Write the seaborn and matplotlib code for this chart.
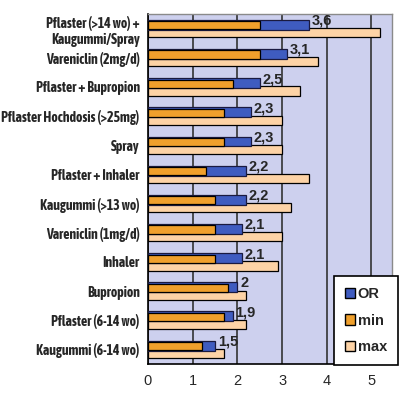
import numpy as np
import pandas as pd
import matplotlib
matplotlib.use("Agg")
import matplotlib.pyplot as plt
import seaborn as sns
from matplotlib.patches import Patch

# Data
categories = [
    "Pflaster (>14 wo) +\nKaugummi/Spray",
    "Vareniclin (2mg/d)",
    "Pflaster + Bupropion",
    "Pflaster Hochdosis (>25mg)",
    "Spray",
    "Pflaster + Inhaler",
    "Kaugummi (>13 wo)",
    "Vareniclin (1mg/d)",
    "Inhaler",
    "Bupropion",
    "Pflaster (6-14 wo)",
    "Kaugummi (6-14 wo)",
]
or_values = [3.6, 3.1, 2.5, 2.3, 2.3, 2.2, 2.2, 2.1, 2.1, 2.0, 1.9, 1.5]
min_values = [2.5, 2.5, 1.9, 1.7, 1.7, 1.3, 1.5, 1.5, 1.5, 1.8, 1.7, 1.2]
max_values = [5.2, 3.8, 3.4, 3.0, 3.0, 3.6, 3.2, 3.0, 2.9, 2.2, 2.2, 1.7]
x_ticks = [0, 1, 2, 3, 4, 5]

blue = "#3f5cc0"
orange = "#f0a02c"
peach = "#fdd3a6"
bg = "#cdd0ee"

narrow = ["Asap Condensed", "Archivo Narrow", "Liberation Sans Narrow", "DejaVu Sans"]
regular = ["Liberation Sans", "DejaVu Sans"]

sns.set_style("white")
plt.rcParams["font.family"] = narrow

fig = plt.figure(figsize=(4.0, 3.95), dpi=100)
ax = fig.add_axes([0.37, 0.0785, 0.61, 0.886])
ax.set_facecolor(bg)

pos = np.arange(len(categories))
df = pd.DataFrame({"pos": pos, "OR": or_values, "min": min_values, "max": max_values})

# max bars sit lower and behind, OR and min share the upper slot
sns.barplot(x=df["max"], y=df["pos"] + 0.14, orient="h", native_scale=True,
            width=0.31, color=peach, edgecolor="black", linewidth=0.9,
            saturation=1, ax=ax, zorder=2)
sns.barplot(x=df["OR"], y=df["pos"] - 0.13, orient="h", native_scale=True,
            width=0.34, color=blue, edgecolor="#1a1a40", linewidth=0.9,
            saturation=1, ax=ax, zorder=3)
sns.barplot(x=df["min"], y=df["pos"] - 0.11, orient="h", native_scale=True,
            width=0.28, color=orange, edgecolor="black", linewidth=0.9,
            saturation=1, ax=ax, zorder=4)

for p, v in zip(pos, or_values):
    txt = f"{v:g}".replace(".", ",")
    ax.text(v + 0.06, p - 0.27, txt, ha="left", va="center",
            fontsize=10.5, fontweight="bold", family=regular, zorder=6)

ax.set_xlim(0, 5.46)
ax.set_ylim(len(categories) - 0.5, -0.5)
ax.set_xticks(x_ticks)
ax.set_xticklabels([str(t) for t in x_ticks], fontsize=10.5, family=regular)
ax.set_yticks(pos)
ax.set_yticklabels(categories, fontsize=10, fontweight="bold")
ax.set_yticks(np.arange(len(categories) + 1) - 0.5, minor=True)
ax.tick_params(axis="y", which="major", length=0, pad=6)
ax.tick_params(axis="y", which="minor", length=4, width=1, color="black")
ax.tick_params(axis="x", length=4, width=1, color="black", pad=3)
ax.set_xlabel("")
ax.set_ylabel("")

ax.grid(axis="x", color="#333333", linewidth=1.2, zorder=1)
ax.set_axisbelow(True)
for side in ["top", "right"]:
    ax.spines[side].set_color("#8a8a8a")
    ax.spines[side].set_linewidth(1)
for side in ["left", "bottom"]:
    ax.spines[side].set_color("black")
    ax.spines[side].set_linewidth(1.2)

handles = [Patch(facecolor=blue, edgecolor="black", label="OR"),
           Patch(facecolor=orange, edgecolor="black", label="min"),
           Patch(facecolor=peach, edgecolor="black", label="max")]
leg = fig.legend(handles=handles, loc="lower right", bbox_to_anchor=(0.995, 0.076),
                 bbox_transform=fig.transFigure, borderaxespad=0, fancybox=False,
                 frameon=True, edgecolor="black", framealpha=1, handlelength=0.7,
                 handleheight=0.7, handletextpad=0.2, labelspacing=0.85, borderpad=0.75,
                 prop={"family": regular, "weight": "bold", "size": 10.5})
leg.get_frame().set_linewidth(1.2)

fig.savefig("out.png", dpi=100)
